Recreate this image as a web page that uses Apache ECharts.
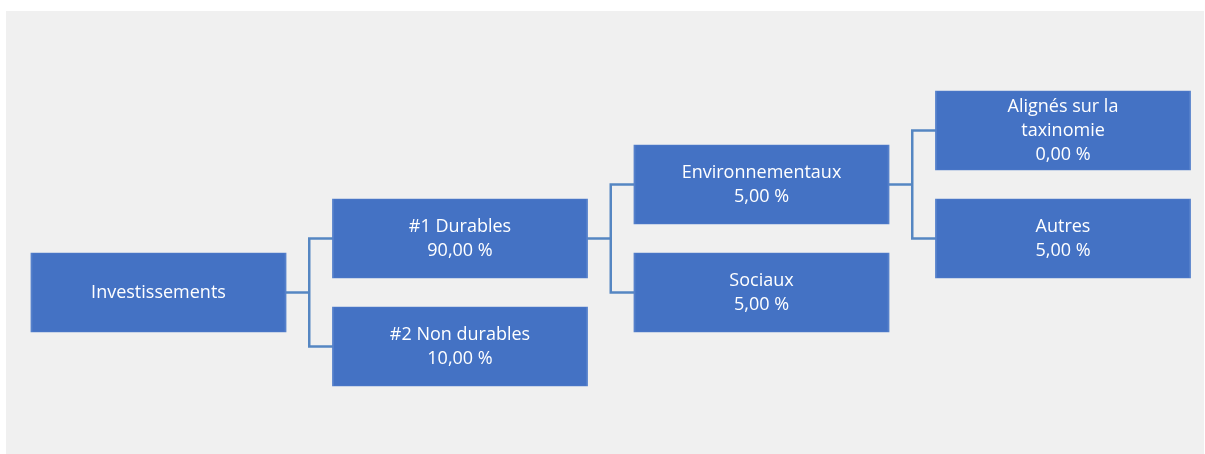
<!DOCTYPE html>
<html>
<head>
<meta charset="utf-8">
<script src="https://cdn.jsdelivr.net/npm/echarts@6/dist/echarts.min.js"></script>
<style>
  html, body { margin: 0; padding: 0; background: #ffffff; }
  #chart { position: absolute; left: 6px; top: 11px; width: 1198px; height: 443px; background: #f0f0f0; }
</style>
</head>
<body>
<div id="chart"></div>
<script>
// Data
const nodeNames = ['Investissements', '#1 Durables', '#2 Non durables', 'Environnementaux', 'Sociaux', 'Alignés sur la\ntaxinomie', 'Autres'];
const nodeValues = [null, 90, 10, 5, 5, 0, 5];
const nodeParents = [-1, 0, 0, 1, 1, 3, 3];

function fmt(v) {
  return v.toFixed(2).replace('.', ',') + ' %';
}

const nodes = nodeNames.map((n, i) => ({ name: n, value: nodeValues[i], children: [] }));
let root = null;
nodeParents.forEach((p, i) => {
  if (p < 0) root = nodes[i]; else nodes[p].children.push(nodes[i]);
});

const labelStyle = {
  show: true,
  position: 'inside',
  color: '#ffffff',
  fontFamily: 'Open Sans',
  fontSize: 18,
  lineHeight: 24,
  align: 'center',
  verticalAlign: 'middle',
  formatter: p => p.value == null || p.value === '' || (Array.isArray(p.value)) ? p.name : p.name + '\n' + fmt(p.value)
};

const chart = echarts.init(document.getElementById('chart'), null, { renderer: 'canvas' });
chart.setOption({
  animation: false,
  series: [{
    type: 'tree',
    data: [root],
    orient: 'LR',
    left: 152.5,
    top: 11.5,
    width: 904.5,
    height: 432,
    symbol: 'rect',
    symbolSize: [254, 79],
    initialTreeDepth: -1,
    expandAndCollapse: false,
    roam: false,
    edgeShape: 'polyline',
    edgeForkPosition: '50%',
    itemStyle: { color: '#4472c4', borderColor: '#5580cb', borderWidth: 1 },
    lineStyle: { color: '#5586c2', width: 2.5, curveness: 0 },
    label: labelStyle,
    leaves: { label: labelStyle },
    emphasis: { disabled: true }
  }]
});
</script>
</body>
</html>
